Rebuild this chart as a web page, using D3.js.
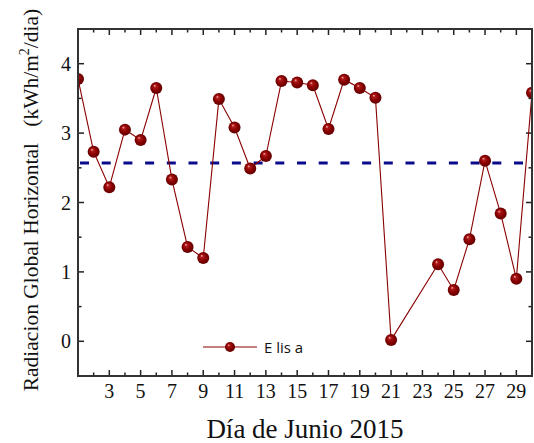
<!DOCTYPE html>
<html>
<head>
<meta charset="utf-8">
<script src="https://cdn.jsdelivr.net/npm/d3@7"></script>
<style>
  html, body { margin: 0; padding: 0; background: #fff; }
  svg { display: block; }
</style>
</head>
<body>
<svg id="chart" width="534" height="443"></svg>
<script>
// Daily global horizontal radiation, June 2015 (days 22 and 23 missing)
const days   = [1, 2, 3, 4, 5, 6, 7, 8, 9, 10, 11, 12, 13, 14, 15, 16, 17, 18, 19, 20, 21, 24, 25, 26, 27, 28, 29, 30];
const values = [3.78, 2.73, 2.22, 3.05, 2.90, 3.65, 2.33, 1.36, 1.20, 3.49, 3.08, 2.49, 2.67, 3.75, 3.73, 3.69, 3.06, 3.77, 3.65, 3.51, 0.02, 1.11, 0.74, 1.47, 2.60, 1.84, 0.90, 3.58];
const meanValue = 2.57;
const xTickLabels = [3, 5, 7, 9, 11, 13, 15, 17, 19, 21, 23, 25, 27, 29];
const yTickLabels = [0, 1, 2, 3, 4];
const seriesName = "E lis a";

const svg = d3.select("#chart");
const margin = { left: 78, right: 2, top: 29, bottom: 67 };
const W = 534, H = 443;
const x = d3.scaleLinear().domain([1, 30]).range([margin.left, W - margin.right]);
const y = d3.scaleLinear().domain([-0.5, 4.5]).range([H - margin.bottom, margin.top]);

const defs = svg.append("defs");
defs.append("clipPath").attr("id", "plotClip")
  .append("rect")
  .attr("x", x(1)).attr("y", y(4.5))
  .attr("width", x(30) - x(1)).attr("height", y(-0.5) - y(4.5));

const grad = defs.append("radialGradient").attr("id", "ball")
  .attr("cx", "50%").attr("cy", "50%").attr("r", "55%")
  .attr("fx", "35%").attr("fy", "30%");
grad.append("stop").attr("offset", "0%").attr("stop-color", "#f2b8b8");
grad.append("stop").attr("offset", "22%").attr("stop-color", "#b01818");
grad.append("stop").attr("offset", "60%").attr("stop-color", "#840000");
grad.append("stop").attr("offset", "100%").attr("stop-color", "#5a0000");

const serif = "'Liberation Serif', 'Times New Roman', serif";

// Axes with inward ticks: majors labelled, minors between them
const allDays = d3.range(2, 31);
const yMinor = d3.range(-0.5, 4.51, 0.5);

function xTicks(g, dir) {
  g.selectAll("line.tk").data(allDays).join("line")
    .attr("x1", d => x(d)).attr("x2", d => x(d))
    .attr("y1", 0).attr("y2", d => dir * (d % 2 === 1 ? 6 : 3.5))
    .attr("stroke", "#222").attr("stroke-width", 1.5);
}
function yTicks(g, dir) {
  g.selectAll("line.tk").data(yMinor).join("line")
    .attr("y1", d => y(d)).attr("y2", d => y(d))
    .attr("x1", 0).attr("x2", d => dir * (Number.isInteger(d) ? 6 : 3.5))
    .attr("stroke", "#222").attr("stroke-width", 1.5);
}

xTicks(svg.append("g").attr("transform", `translate(0,${y(-0.5)})`), -1);
xTicks(svg.append("g").attr("transform", `translate(0,${y(4.5)})`), 1);
yTicks(svg.append("g").attr("transform", `translate(${x(1)},0)`), 1);
yTicks(svg.append("g").attr("transform", `translate(${x(30)},0)`), -1);

// Tick labels
svg.append("g").selectAll("text").data(xTickLabels).join("text")
  .attr("x", d => x(d)).attr("y", 398)
  .attr("text-anchor", "middle")
  .attr("font-family", serif).attr("font-size", 20).attr("fill", "#111")
  .text(d => d);

svg.append("g").selectAll("text").data(yTickLabels).join("text")
  .attr("x", 71).attr("y", d => y(d) + 7)
  .attr("text-anchor", "end")
  .attr("font-family", serif).attr("font-size", 20).attr("fill", "#111")
  .text(d => d);

// Plot content
const plot = svg.append("g").attr("clip-path", "url(#plotClip)");

plot.append("line")
  .attr("x1", x(1)).attr("x2", x(30))
  .attr("y1", y(meanValue)).attr("y2", y(meanValue))
  .attr("stroke", "#0a0a8c").attr("stroke-width", 3)
  .attr("stroke-dasharray", "9,12.7").attr("stroke-dashoffset", -2);

const pts = days.map((d, i) => [d, values[i]]);
plot.append("path")
  .datum(pts)
  .attr("d", d3.line().x(d => x(d[0])).y(d => y(d[1])))
  .attr("fill", "none").attr("stroke", "#8b0000").attr("stroke-width", 1.1);

plot.selectAll("circle.pt").data(pts).join("circle")
  .attr("class", "pt")
  .attr("cx", d => x(d[0])).attr("cy", d => y(d[1]))
  .attr("r", 6).attr("fill", "url(#ball)");

// Frame
svg.append("rect")
  .attr("x", x(1)).attr("y", y(4.5))
  .attr("width", x(30) - x(1)).attr("height", y(-0.5) - y(4.5))
  .attr("fill", "none").attr("stroke", "#333").attr("stroke-width", 2);

// Legend
const lg = svg.append("g");
lg.append("line").attr("x1", 203).attr("x2", 257).attr("y1", 347).attr("y2", 347)
  .attr("stroke", "#8b0000").attr("stroke-width", 1.1);
lg.append("circle").attr("cx", 230).attr("cy", 347).attr("r", 5).attr("fill", "url(#ball)");
lg.append("text").attr("x", 264).attr("y", 353)
  .attr("font-family", "'Open Sans', 'DejaVu Sans', sans-serif").attr("font-size", 15).attr("fill", "#111")
  .attr("xml:space", "preserve").style("white-space", "pre")
  .text(seriesName);

// Axis titles
svg.append("text")
  .attr("x", 305).attr("y", 438)
  .attr("text-anchor", "middle")
  .attr("font-family", serif).attr("font-size", 27).attr("fill", "#111")
  .text("Día de Junio 2015");

const yt = svg.append("text")
  .attr("transform", "translate(38,200) rotate(-90)")
  .attr("text-anchor", "middle")
  .attr("font-family", serif).attr("font-size", 21.5).attr("fill", "#111")
  .style("white-space", "pre");
yt.append("tspan").text("Radiacion Global Horizontal   (kWh/m");
yt.append("tspan").attr("dy", -9).attr("font-size", 14).text("2");
yt.append("tspan").attr("dy", 9).text("/dia)");
</script>
</body>
</html>
